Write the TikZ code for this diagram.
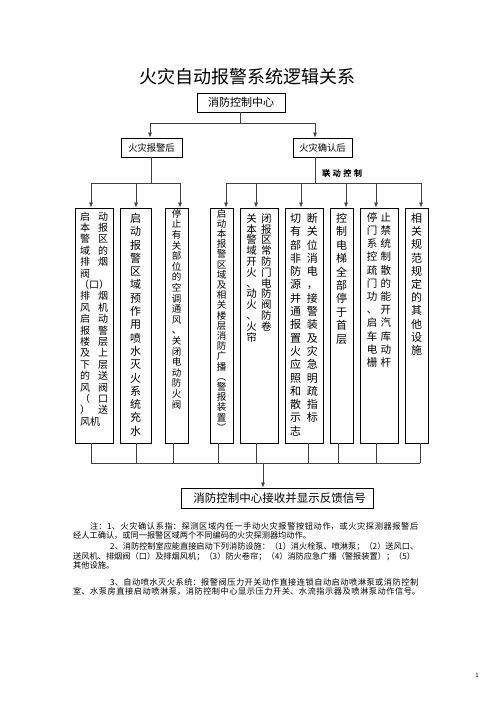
\documentclass[tikz,border=0pt]{standalone}
\usepackage{fontspec}
\usetikzlibrary{arrows.meta}
\setmainfont{Noto Sans CJK SC}
\newfontfamily\cjkbold{Noto Sans CJK SC}[FakeBold=2]
\XeTeXlinebreaklocale "zh"
\XeTeXlinebreakskip=0pt plus 3pt minus 0.3pt
\newcommand\rr[3]{\makebox[#1]{#2}\makebox[#1]{#3}}
\newcommand\jline[2]{\parbox[t]{#1}{\parfillskip=0pt\relax #2}}
\begin{document}
\begin{tikzpicture}[x=1pt,y=-1pt,
  box/.style={draw=black, line width=0.8pt, inner sep=0pt, minimum height=19pt},
  vbx/.style={draw=black, line width=0.8pt, inner sep=0pt, minimum height=235pt},
  vtxt/.style={anchor=north, inner sep=0pt, align=center},
  conn/.style={line width=0.7pt, draw=black!75},
  arr/.style={conn, -{Latex[length=5pt,width=4pt]}},
  note/.style={anchor=west, inner sep=0pt, font=\fontsize{8.2}{10}\selectfont}]
\useasboundingbox (0,0) rectangle (496,702);

% title
\node[font=\fontsize{18}{20}\selectfont, inner sep=0pt] (title) at (247.5,77) {火灾自动报警系统逻辑关系};

% top boxes
\node[box, minimum width=88pt, font=\fontsize{11}{13}\selectfont] (center) at (241,102.5) {消防控制中心};
\node[box, minimum width=61pt, font=\fontsize{9.3}{11}\selectfont] (alarm) at (151.5,147.5) {火灾报警后};
\node[box, minimum width=59pt, font=\fontsize{9.3}{11}\selectfont] (confirm) at (322.5,147.5) {火灾确认后};
\node[font=\cjkbold\fontsize{8}{9}\selectfont, inner sep=0pt] (ld) at (342,173) {联\hspace{2.6pt}动\hspace{2.6pt}控\hspace{2.6pt}制};

% vertical boxes
\node[vbx, minimum width=38pt] (b1) at (94,325.5) {};
\node[vbx, minimum width=31pt] (b2) at (135.5,325.5) {};
\node[vbx, minimum width=23pt] (b3) at (176.5,325.5) {};
\node[vbx, minimum width=23pt] (b4) at (221.5,325.5) {};
\node[vbx, minimum width=38pt] (b5) at (259,325.5) {};
\node[vbx, minimum width=38pt] (b6) at (304,325.5) {};
\node[vbx, minimum width=23pt] (b7) at (341.5,325.5) {};
\node[vbx, minimum width=38pt] (b8) at (379,325.5) {};
\node[vbx, minimum width=23pt] (b9) at (416.5,325.5) {};

% texts in vertical boxes
\node[vtxt, font=\fontsize{10}{11.4}\selectfont] (t1) at (94,211.5)
 {\rr{18pt}{启}{动}\\\rr{18pt}{本}{报}\\\rr{18pt}{警}{区}\\\rr{18pt}{域}{的}\\\rr{18pt}{排}{烟}\\\rr{18pt}{阀}{}\\（口）\\\rr{18pt}{排}{烟}\\\rr{18pt}{风}{机}\\\rr{18pt}{启}{动}\\\rr{18pt}{报}{警}\\\rr{18pt}{楼}{层}\\\rr{18pt}{及}{上}\\\rr{18pt}{下}{层}\\\rr{18pt}{的}{送}\\\rr{18pt}{风}{阀}\\\rr{18pt}{（}{口}\\\rr{18pt}{）}{送}\\\makebox[36pt][l]{\hspace{4pt}风机}};
\node[vtxt, font=\fontsize{11}{13.3}\selectfont] (t2) at (135.5,213)
 {启\\动\\报\\警\\区\\域\\预\\作\\用\\喷\\水\\灭\\火\\系\\统\\充\\水};
\node[vtxt, font=\fontsize{9.5}{10.6}\selectfont] (t3) at (176.5,209)
 {停\\止\\有\\关\\部\\位\\的\\空\\调\\通\\风\\、\\关\\闭\\电\\动\\防\\火\\阀};
\node[vtxt, font=\fontsize{9.5}{10.2}\selectfont] (t4) at (221.5,209)
 {启\\动\\本\\报\\警\\区\\域\\及\\相\\关\\楼\\层\\消\\防\\广\\播\\︵\\警\\报\\装\\置\\︶};
\node[vtxt, font=\fontsize{10.5}{10.8}\selectfont] (t5) at (259,213.3)
 {\rr{15pt}{关}{闭}\\\rr{15pt}{本}{报}\\\rr{15pt}{警}{区}\\\rr{15pt}{域}{常}\\\rr{15pt}{开}{防}\\\rr{15pt}{火}{门}\\\rr{15pt}{、}{电}\\\rr{15pt}{动}{防}\\\rr{15pt}{火}{阀}\\\rr{15pt}{、}{防}\\\rr{15pt}{火}{卷}\\\rr{15pt}{帘}{}};
\node[vtxt, font=\fontsize{11}{13.3}\selectfont] (t6) at (304,213)
 {\rr{17pt}{切}{断}\\\rr{17pt}{有}{关}\\\rr{17pt}{部}{位}\\\rr{17pt}{非}{消}\\\rr{17pt}{防}{电}\\\rr{17pt}{源}{，}\\\rr{17pt}{并}{接}\\\rr{17pt}{通}{警}\\\rr{17pt}{报}{装}\\\rr{17pt}{置}{及}\\\rr{17pt}{火}{灾}\\\rr{17pt}{应}{急}\\\rr{17pt}{照}{明}\\\rr{17pt}{和}{疏}\\\rr{17pt}{散}{指}\\\rr{17pt}{示}{标}\\\rr{17pt}{志}{}};
\node[vtxt, font=\fontsize{11}{13.4}\selectfont] (t7) at (341.5,213)
 {控\\制\\电\\梯\\全\\部\\停\\于\\首\\层};
\node[vtxt, font=\fontsize{10.5}{13.2}\selectfont] (t8) at (379,212.3)
 {\rr{14pt}{停}{止}\\\rr{14pt}{门}{禁}\\\rr{14pt}{系}{统}\\\rr{14pt}{控}{制}\\\rr{14pt}{疏}{散}\\\rr{14pt}{门}{的}\\\rr{14pt}{功}{能}\\\rr{14pt}{、}{开}\\\rr{14pt}{启}{汽}\\\rr{14pt}{车}{库}\\\rr{14pt}{电}{动}\\\rr{14pt}{栅}{杆}};
\node[vtxt, font=\fontsize{11}{13.2}\selectfont] (t9) at (416.5,213)
 {相\\关\\规\\范\\规\\定\\的\\其\\他\\设\\施};

% bottom box
\node[box, minimum width=192pt, minimum height=20pt, font=\fontsize{11.5}{13}\selectfont] (feedback) at (277,498) {\hspace{5pt}消防控制中心接收并显示反馈信号};

% connector points
\coordinate (ts) at (240,123);
\coordinate (ha) at (150,123);
\coordinate (hb) at (315,123);
\coordinate (la) at (151,183);
\coordinate (ra) at (315,183);
\coordinate (bb) at (263,463);
\coordinate (p1) at ([xshift=-3pt]b1.north);
\coordinate (p2) at ([xshift=0.5pt]b2.north);
\coordinate (p3) at ([xshift=3.5pt]b3.north);
\coordinate (p4) at ([xshift=4.5pt]b4.north);
\coordinate (p5) at ([xshift=-3pt]b5.north);
\coordinate (p6) at ([xshift=-3pt]b6.north);
\coordinate (p7) at ([xshift=4.5pt]b7.north);
\coordinate (p8) at ([xshift=-3pt]b8.north);
\coordinate (p9) at ([xshift=4.5pt]b9.north);
\coordinate (q1) at ([xshift=-3pt]b1.south);
\coordinate (q2) at ([xshift=0.5pt]b2.south);
\coordinate (q3) at ([xshift=-3.5pt]b3.south);
\coordinate (q4) at ([xshift=-3.5pt]b4.south);
\coordinate (q5) at ([xshift=-3pt]b5.south);
\coordinate (q6) at ([xshift=4pt]b6.south);
\coordinate (q7) at ([xshift=-3.5pt]b7.south);
\coordinate (q8) at ([xshift=-3pt]b8.south);
\coordinate (q9) at ([xshift=3.5pt]b9.south);

% connectors
\draw[conn] (center.south -| ts) -- (ts);
\draw[conn] (ha) -- (hb);
\draw[arr] (ha) -- (alarm.north -| ha);
\draw[arr] (hb) -- (confirm.north -| hb);
\draw[conn] (alarm.south -| la) -- (la);
\draw[conn] (p1 |- la) -- (p3 |- la);
\foreach \i in {1,2,3} \draw[arr] (p\i |- la) -- (p\i);
\draw[conn] (confirm.south -| ra) -- (ra);
\draw[conn] (p4 |- ra) -- (p9 |- ra);
\foreach \i in {4,...,9} \draw[arr] (p\i |- ra) -- (p\i);
\foreach \i in {1,...,9} \draw[conn] (q\i) -- (q\i |- bb);
\draw[conn] (q1 |- bb) -- (q9 |- bb);
\draw[arr] (bb) -- (feedback.north -| bb);

% notes
\node[note] (n1) at (90,526) {\jline{328pt}{注：1、火灾确认系指：探测区域内任一手动火灾报警按钮动作，或火灾探测器报警后}};
\node[note] (n2) at (73,535) {经人工确认，或同一报警区域两个不同编码的火灾探测器均动作。};
\node[note] (n3) at (110,547) {\jline{308pt}{2、消防控制室应能直接启动下列消防设施：（1）消火栓泵、喷淋泵；（2）送风口、}};
\node[note] (n4) at (73,557) {\jline{342pt}{送风机、排烟阀（口）及排烟风机；（3）防火卷帘；（4）消防应急广播（警报装置）；（5）}};
\node[note] (n5) at (73,565) {其他设施。};
\node[note] (n6) at (110,582) {\jline{308pt}{3、自动喷水灭火系统：报警阀压力开关动作直接连锁自动启动喷淋泵或消防控制}};
\node[note] (n7) at (73,591) {\jline{347pt}{室、水泵房直接启动喷淋泵，消防控制中心显示压力开关、水流指示器及喷淋泵动作信号。}};

% page number
\node[font=\fontsize{6}{7}\selectfont, inner sep=0pt] (pg) at (477,675) {1};
\end{tikzpicture}
\end{document}
